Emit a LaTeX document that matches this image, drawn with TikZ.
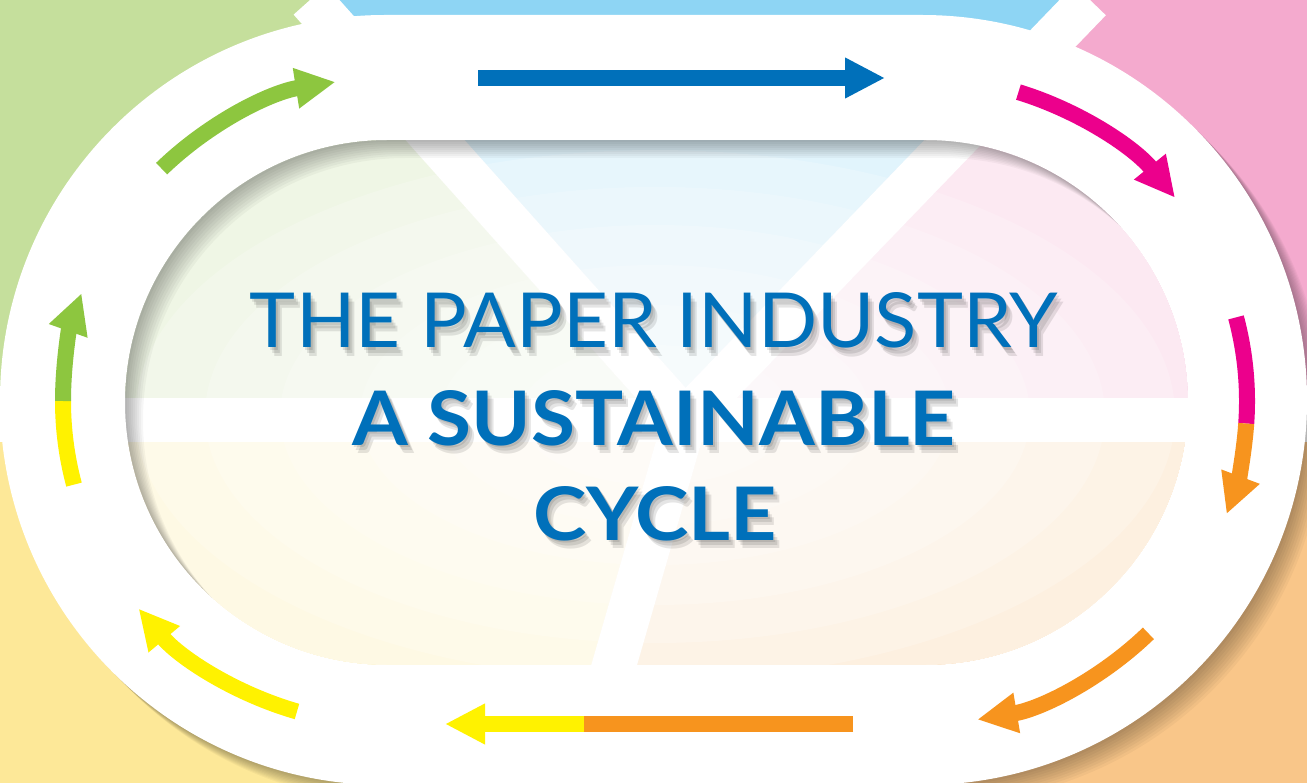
\documentclass[tikz,border=0pt]{standalone}
\usepackage{fontspec}
\newfontfamily\titlefont{Lato}
\usetikzlibrary{arrows.meta,calc}

\definecolor{bggreen}{HTML}{C5DF9C}
\definecolor{bgblue}{HTML}{8ED5F4}
\definecolor{bgpink}{HTML}{F4AACE}
\definecolor{bgorange}{HTML}{F9C689}
\definecolor{bgyellow}{HTML}{FDE898}
\definecolor{arrblue}{HTML}{0070BA}
\definecolor{arrpink}{HTML}{EC008C}
\definecolor{arrorange}{HTML}{F7941E}
\definecolor{arryellow}{HTML}{FFF200}
\definecolor{arrgreen}{HTML}{8DC63F}
\definecolor{titleblue}{HTML}{0070BA}

\tikzset{
  band/.style={draw=white, line width=0.88cm},
  arrowline/.style={line width=0.32cm},
  arrowhead/.style={arrowline, -{Triangle[length=0.8cm,width=0.76cm]}},
  titletext/.style={text=titleblue, inner sep=0pt, anchor=base},
  titleshadow/.style={text=black, opacity=0.10, inner sep=0pt, anchor=base},
}

\begin{document}
\begin{tikzpicture}[x=0.02cm, y=-0.02cm]
            \useasboundingbox (0,0) rectangle (1307,783);
            \clip (0,0) rectangle (1307,783);

            \coordinate (hub) at (685,420);
            \coordinate (cL) at (386,401);
            \coordinate (cR) at (924,401);

            \fill[bggreen]  (0,0) -- (310,0) -- (hub) -- (0,420) -- cycle;
            \fill[bgblue]   (310,0) -- (1090,0) -- (hub) -- cycle;
            \fill[bgpink]   (1090,0) -- (1307,0) -- (1307,420) -- (hub) -- cycle;
            \fill[bgorange] (hub) -- (1307,420) -- (1307,783) -- (580,783) -- cycle;
            \fill[bgyellow] (hub) -- (580,783) -- (0,783) -- (0,420) -- cycle;
            \draw[band] (hub) -- (310,0);
            \draw[band] (hub) -- (1090,0);
            \draw[band] (hub) -- (0,420);
            \draw[band] (hub) -- (1307,420);
            \draw[band] (hub) -- (580,783);

            \begin{scope}
              \clip[rounded corners=5.25cm] (125,140) rectangle (1188,665);
              \fill[white, opacity=0.74] (0,0) rectangle (1307,783);
              \foreach \rx/\ry in {520/265, 450/228, 375/190, 295/150, 215/110, 135/70}
                \fill[white, opacity=0.2] (655,415) ellipse [x radius=\rx, y radius=\ry];
            \end{scope}

            \foreach \d in {2,4,...,18}
              \fill[black, opacity=0.035, even odd rule, shift={(\d,\d)}, rounded corners=7.7cm]
                (0,15) rectangle (1307,785) [rounded corners=5.25cm] (125,140) rectangle (1188,665);
            \fill[white, even odd rule, rounded corners=7.7cm]
              (0,15) rectangle (1307,785) [rounded corners=5.25cm] (125,140) rectangle (1188,665);

            \draw[arrowhead, arrblue] (478,78) -- (885,78);
            \draw[arrowhead, arrpink] ($(cR)+(-73:323)$) arc[start angle=-73, end angle=-39, radius=323];
            \draw[arrowline, arrpink] ($(cR)+(-15:323)$) arc[start angle=-15, end angle=4, radius=323];
            \draw[arrowhead, arrorange] ($(cR)+(4:323)$) arc[start angle=4, end angle=20.5, radius=323];
            \draw[arrowhead, arrorange] ($(cR)+(46:323)$) arc[start angle=46, end angle=80.5, radius=323];
            \draw[arrowline, arrorange] (853,724) -- (584,724);
            \draw[arrowhead, arryellow] (584,724) -- (445,724);
            \draw[arrowhead, arryellow] ($(cL)+(106:323)$) arc[start angle=106, end angle=140, radius=323];
            \draw[arrowline, arryellow] ($(cL)+(165:323)$) arc[start angle=165, end angle=180, radius=323];
            \draw[arrowhead, arrgreen] ($(cL)+(180:323)$) arc[start angle=180, end angle=199.5, radius=323];
            \draw[arrowhead, arrgreen] ($(cL)+(226:323)$) arc[start angle=226, end angle=261, radius=323];

            \foreach \s in {2,4,6}
            {
              \node[titleshadow] (shadowa\s) at (654+\s,348+1.4*\s) {\resizebox{16.16cm}{1.1cm}{\titlefont THE PAPER INDUSTRY}};
              \node[titleshadow] (shadowb\s) at (654+\s,445+1.4*\s) {\resizebox{12.06cm}{1.1cm}{\titlefont\bfseries A SUSTAINABLE}};
              \node[titleshadow] (shadowc\s) at (655+\s,540+1.4*\s) {\resizebox{4.88cm}{1.08cm}{\titlefont\bfseries CYCLE}};
            }
            \node[titletext] (titlea) at (654,348) {\resizebox{16.16cm}{1.1cm}{\titlefont THE PAPER INDUSTRY}};
            \node[titletext] (titleb) at (654,445) {\resizebox{12.06cm}{1.1cm}{\titlefont\bfseries A SUSTAINABLE}};
            \node[titletext] (titlec) at (655,540) {\resizebox{4.88cm}{1.08cm}{\titlefont\bfseries CYCLE}};
        \end{tikzpicture}
\end{document}
